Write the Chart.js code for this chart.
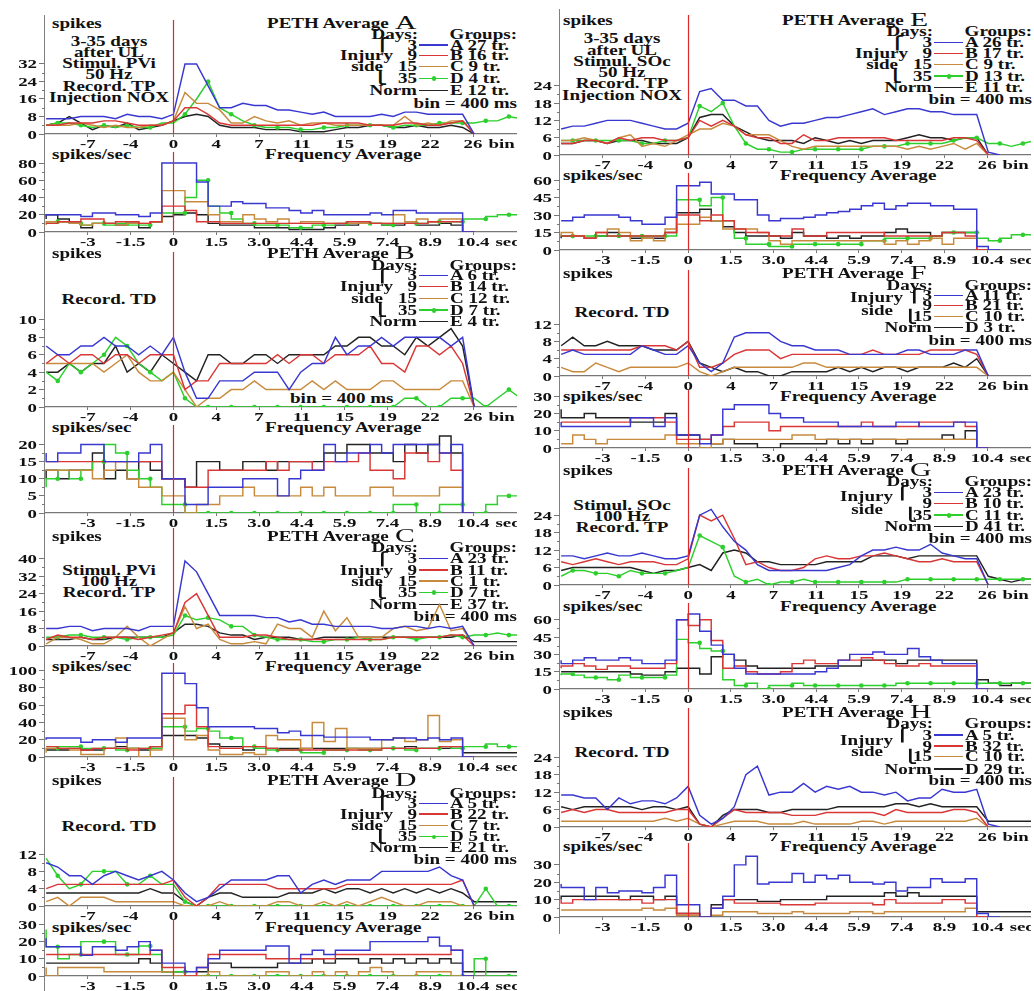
<!DOCTYPE html>
<html>
<head>
<meta charset="utf-8">
<title>PETH and frequency averages</title>
<script src="https://cdn.jsdelivr.net/npm/chart.js@4.4.1/dist/chart.umd.min.js"></script>
<style>
  html, body { margin: 0; padding: 0; background: #fff; }
  #page { position: relative; width: 1034px; height: 991px; overflow: hidden; background: #fff; }
  #page canvas { position: absolute; }
  .lbl { position: absolute; white-space: nowrap; color: #111; font-family: "Liberation Serif", "Times New Roman", serif; font-weight: bold; }
  .rule { position: absolute; }
</style>
</head>
<body>
<div id="page"></div>
<script>
// ---------- bins (400 ms each) and axis labels ----------
const BINS = [-11,-10,-9,-8,-7,-6,-5,-4,-3,-2,-1,0,1,2,3,4,5,6,7,8,9,10,11,12,13,14,15,16,17,18,19,20,21,22,23,24,25,26,27,28,29,30];
const TICK_BINS = [-7.4,-3.7,0,3.7,7.4,11.1,14.8,18.5,22.2,25.9];
const BIN_LABELS = ['-7','-4','0','4','7','11','15','19','22','26'];
const SEC_LABELS = ['-3','-1.5','0','1.5','3.0','4.4','5.9','7.4','8.9','10.4'];

// ---------- y tick values ----------
const A_pethTicks = [0,8,16,24,32],  A_freqTicks = [0,20,40,60,80];
const B_pethTicks = [0,2,4,6,8,10],  B_freqTicks = [0,5,10,15,20];
const C_pethTicks = [0,8,16,24,32,40], C_freqTicks = [0,20,40,60,80,100];
const D_pethTicks = [0,4,8,12],      D_freqTicks = [0,10,20,30];
const E_pethTicks = [0,6,12,18,24],  E_freqTicks = [0,15,30,45,60];
const F_pethTicks = [0,4,8,12],      F_freqTicks = [0,10,20,30];
const G_pethTicks = [0,6,12,18,24],  G_freqTicks = [0,15,30,45,60];
const H_pethTicks = [0,6,12,18,24],  H_freqTicks = [0,10,20,30];

// ---------- legend texts ----------
const A_groups = ['A 27 tr.','B 16 tr.','C 9 tr.','D 4 tr.','E 12 tr.'];
const B_groups = ['A 6 tr.','B 14 tr.','C 12 tr.','D 7 tr.','E 4 tr.'];
const C_groups = ['A 23 tr.','B 11 tr.','C 1 tr.','D 7 tr.','E 37 tr.'];
const D_groups = ['A 5 tr.','B 22 tr.','C 7 tr.','D 5 tr.','E 21 tr.'];
const E_groups = ['A 26 tr.','B 17 tr.','C 9 tr.','D 13 tr.','E 11 tr.'];
const F_groups = ['A 11 tr.','B 21 tr.','C 10 tr.','D 3 tr.'];
const G_groups = ['A 23 tr.','B 10 tr.','C 11 tr.','D 41 tr.'];
const H_groups = ['A 5 tr.','B 32 tr.','C 10 tr.','D 29 tr.'];
const DAYS_5 = ['3','9','15','35',''];
const DAYS_F = ['3','9','15',''];
const DAYS_G = ['3','9','35',''];
const DAYS_H = ['3','9','15',''];

const A_notes = ['3-35 days','after UL','Stimul. PVi','50 Hz','Record. TP','Injection NOX'];
const B_notes = ['Record. TD'];
const C_notes = ['Stimul. PVi','100 Hz','Record. TP'];
const D_notes = ['Record. TD'];
const E_notes = ['3-35 days','after UL','Stimul. SOc','50 Hz','Record. TP','Injection NOX'];
const F_notes = ['Record. TD'];
const G_notes = ['Stimul. SOc','100 Hz','Record. TP'];
const H_notes = ['Record. TD'];

// ---------- PETH: spikes per bin, bins -11 .. ----------
const A_peth_3d   = [7,7,7,8,8,8,7,9,8,8,7, 9, 32,32,22,12,12,14,13,13,11,11, 10,9,10,8,8,8,8,9,8,10, 10,9,9,9,9, 0];
const A_peth_9d   = [4,4,5,5,5,6,6,5,4,4,4, 6, 12,12,9,5,4,4,4,4,4,4, 4,4,5,5,5,5,4,4,4,5, 5,4,4,5,6, 0];
const A_peth_15d  = [4,4,4,5,4,3,4,3,3,4,4, 6, 19,14,14,11,5,5,8,6,5,6, 4,5,5,4,4,4,4,4,4,8, 4,5,4,6,6, 0];
const A_peth_35d  = [4,5,5,4,3,4,3,4,3,3,5, 5, 9,16,24,12,9,6,4,3,3,3, 2,2,3,3,4,4,4,4,3,4, 4,4,5,5,5, 5,6,6,8,7];
const A_peth_norm = [4,5,8,5,2,4,3,5,2,3,4, 6, 8,9,8,4,3,3,3,2,2,2, 1,1,1,2,3,3,4,4,3,3, 4,3,3,4,3, 0];

const B_peth_3d   = [7,6,6,7,7,8,7,7,6,7,6, 8, 4,1,1,3,3,3,4,4,4,2, 4,5,5,8,6,7,7,8,7,8, 8,8,8,7,8, 0];
const B_peth_9d   = [5,6,5,6,6,5,6,6,5,6,6, 6, 2,3,3,5,5,5,5,5,6,5, 6,6,5,6,6,6,7,5,5,4, 7,7,6,7,5, 0];
const B_peth_15d  = [5,5,5,5,5,4,5,6,4,3,3, 4, 2,0,1,1,2,2,3,2,2,2, 2,3,2,3,2,2,2,3,3,2, 2,2,2,3,3, 0];
const B_peth_35d  = [4,3,5,4,5,6,8,7,5,4,3, 4, 1,0,0,0,0,0,0,0,0,0, 0,0,0,0,0,0,0,0,0,1, 1,0,0,1,1, 1,0,1,2,1];
const B_peth_norm = [4,4,5,4,5,5,7,4,5,4,6, 5, 4,3,6,6,5,5,6,6,5,6, 6,6,6,7,7,8,8,7,7,6, 8,7,8,9,7, 0];

const C_peth_3d   = [8,8,9,9,7,8,8,8,7,9,9, 9, 39,34,24,14,14,14,14,13,13,11, 12,10,10,9,9,9,9,8,8,9, 9,8,9,8,9, 0];
const C_peth_9d   = [3,5,4,4,3,4,4,4,3,4,5, 6, 20,24,14,4,4,4,5,5,4,3, 3,3,3,3,3,3,3,3,4,4, 4,4,4,5,5, 0];
const C_peth_15d  = [1,4,4,3,1,1,4,9,4,0,3, 6, 18,8,10,3,1,1,2,1,10,8, 8,4,16,7,13,4,4,4,8,9, 7,8,19,7,8, 0];
const C_peth_35d  = [4,4,5,5,4,4,4,3,4,4,4, 5, 14,12,13,12,9,9,5,4,3,3, 3,2,2,3,3,4,3,3,4,4, 3,4,4,5,4, 5,5,6,5,5];
const C_peth_norm = [3,3,3,4,3,3,4,4,4,4,4, 6, 10,10,9,6,5,5,3,4,4,4, 3,3,4,4,4,4,4,4,4,4, 4,4,4,4,5, 2,2,2,2,2];

const D_peth_3d   = [10,9,7,7,5,7,8,7,6,7,8, 6, 3,1,2,4,6,6,6,6,7,7, 3,5,6,5,6,6,6,8,8,8, 8,8,9,7,6, 0];
const D_peth_9d   = [4,5,5,5,5,5,5,5,5,5,5, 6, 2,0,2,5,5,5,5,5,4,4, 4,4,4,4,5,5,5,5,5,5, 5,5,5,5,6, 0];
const D_peth_15d  = [1,2,0,2,2,2,1,1,1,1,1, 1, 0,0,0,1,0,0,0,0,1,1, 0,0,1,0,1,0,1,2,1,0, 0,1,1,1,0, 0];
const D_peth_35d  = [11,7,4,5,8,8,8,5,5,7,5, 5, 1,0,0,0,0,0,0,0,0,0, 0,0,0,0,0,0,0,0,0,0, 0,0,0,0,0, 0,4,0,0,0];
const D_peth_norm = [3,3,3,3,3,3,3,3,3,4,3, 3, 1,0,2,3,3,2,2,2,2,3, 3,3,4,3,4,4,3,4,3,4, 3,4,3,4,3, 1,1,1,1,1];

const E_peth_3d   = [9,10,10,11,12,12,12,11,10,9,9, 11, 22,23,19,19,17,17,12,10,11,11, 12,13,13,14,15,16,14,15,16,16, 15,15,14,14,14, 1,0];
const E_peth_9d   = [4,4,5,5,4,6,5,6,6,5,5, 6, 12,10,12,10,7,6,6,4,4,7, 5,5,6,6,6,6,6,5,5,5, 5,5,6,6,5, 0];
const E_peth_15d  = [5,5,6,5,4,6,7,3,4,3,5, 7, 9,9,11,10,7,7,7,5,3,2, 3,3,3,3,3,3,3,3,2,3, 2,3,4,2,4, 0];
const E_peth_35d  = [5,5,5,5,5,5,5,4,4,5,5, 6, 17,15,18,10,4,2,2,1,1,2, 2,2,2,2,2,3,3,3,4,4, 4,4,5,6,6, 4,4,3,4,5];
const E_peth_norm = [4,4,5,5,4,5,5,5,4,4,4, 6, 13,14,14,10,8,6,5,5,5,4, 6,5,4,5,4,5,5,5,6,7, 6,6,5,6,6, 0];

const F_peth_3d   = [5,6,5,5,5,5,5,7,6,5,5, 7, 3,1,3,9,10,10,10,8,7,7, 6,6,6,5,5,5,5,5,6,6, 5,5,5,6,6, 0];
const F_peth_9d   = [6,6,6,6,6,6,6,7,7,7,6, 8, 2,2,3,5,6,6,6,4,5,5, 5,5,5,5,5,6,5,5,5,5, 6,6,6,6,5, 0];
const F_peth_15d  = [2,1,1,3,2,1,2,2,2,2,2, 3, 1,0,1,2,2,2,2,2,2,3, 3,2,2,2,2,2,2,2,2,2, 2,2,2,2,2, 0];
const F_peth_norm = [7,9,7,7,8,7,7,7,6,6,6, 8, 3,2,1,2,1,1,0,0,1,1, 1,1,2,1,2,1,2,2,1,2, 2,2,3,2,4, 0];

const G_peth_3d   = [10,10,9,10,11,10,10,11,10,9,9, 10, 24,26,20,15,12,7,5,5,5,5, 5,5,6,7,10,12,12,13,12,12, 14,11,10,9,9, 0];
const G_peth_9d   = [8,7,8,9,8,7,8,8,8,7,7, 9, 24,22,24,16,7,8,6,5,5,6, 9,10,9,9,10,10,11,10,9,8, 8,9,8,8,8, 0];
const G_peth_35d  = [3,5,5,4,4,3,5,4,4,4,5, 6, 17,15,13,3,1,2,0,1,1,2, 1,1,1,1,1,1,1,1,2,2, 2,2,2,2,2, 2,2,2,2,2];
const G_peth_norm = [5,6,6,6,6,6,6,5,4,5,5, 6, 7,5,11,12,11,8,8,7,7,7, 7,8,8,8,8,10,10,10,9,10, 10,10,10,10,10, 3,2,1,2,2];

const H_peth_3d   = [11,11,10,10,6,10,8,9,9,8,10, 14, 4,1,3,7,18,21,11,12,12,15, 12,14,13,14,12,12,11,12,9,10, 10,13,12,12,13, 1,0];
const H_peth_9d   = [5,6,5,6,6,5,5,5,5,5,6, 6, 1,0,3,6,5,5,5,5,4,4, 4,5,5,5,5,5,4,6,5,5, 5,5,6,6,5, 0];
const H_peth_15d  = [2,2,2,2,2,2,2,2,2,3,2, 3, 1,0,1,2,2,2,1,1,1,2, 1,1,1,1,2,2,1,2,2,2, 2,2,2,2,3, 0];
const H_peth_norm = [7,6,7,7,7,7,7,6,7,7,6, 7, 1,0,4,6,6,6,5,5,6,6, 6,6,7,7,7,7,7,8,8,7, 8,7,7,7,7, 2,2,2,2,2];

// ---------- frequency: spikes/sec, one step per bin ----------
const A_freq_3d   = [18,20,20,20,18,22,22,20,20,18,22, 80, 80,80,58,30,30,35,33,33,28,28, 25,22,25,20,20,20,20,22,20,25, 25,22,22,22,22, 0];
const A_freq_9d   = [10,10,12,12,15,15,10,12,12,10,12, 30, 30,25,12,12,10,10,10,10,10,10, 10,10,10,10,10,12,12,10,10,10, 10,10,12,12,12, 0];
const A_freq_15d  = [8,12,12,10,8,10,10,8,10,10,12, 48, 48,35,35,20,12,12,20,15,12,15, 10,12,12,10,10,10,10,10,10,20, 12,15,12,15,15, 0];
const A_freq_35d  = [12,12,12,10,8,10,8,10,8,8,12, 22, 22,40,60,30,22,15,10,8,8,8, 5,5,8,8,10,10,10,10,8,10, 10,10,12,12,12, 15,15,18,20,20];
const A_freq_norm = [15,20,15,12,5,10,10,8,12,5,12, 18, 20,22,20,10,8,8,8,5,5,5, 3,3,3,5,8,8,10,10,8,8, 10,8,8,10,8, 0];

const B_freq_3d   = [17.5,15,17.5,17.5,20,20,15,15,15,17.5,20, 10, 10,2.5,2.5,7.5,7.5,7.5,10,10,10,5, 10,12.5,12.5,20,15,17.5,17.5,20,17.5,20, 20,20,20,17.5,20, 0];
const B_freq_9d   = [15,15,15,15,15,15,15,15,15,15,15, 10, 10,7.5,7.5,12.5,12.5,12.5,12.5,12.5,15,12.5, 15,15,12.5,15,15,15,17.5,12.5,12.5,10, 17.5,17.5,15,17.5,12.5, 0];
const B_freq_15d  = [12.5,12.5,12.5,12.5,12.5,10,12.5,15,10,7.5,7.5, 5, 5,0,2.5,2.5,5,5,7.5,5,5,5, 5,7.5,5,7.5,5,5,5,7.5,7.5,5, 5,5,5,7.5,7.5, 0];
const B_freq_35d  = [7.5,10,12.5,10,12.5,15,20,17.5,12.5,10,7.5, 2.5, 2.5,0,0,0,0,0,0,0,0,0, 0,0,0,0,0,0,0,0,0,2.5, 2.5,0,0,2.5,2.5, 0,0,2.5,5,5];
const B_freq_norm = [10,12.5,10,12.5,12.5,17.5,10,12.5,10,15,12.5, 10, 10,7.5,15,15,12.5,12.5,15,15,12.5,15, 15,15,15,17.5,17.5,20,20,17.5,17.5,15, 20,17.5,20,22.5,17.5, 0];

const C_freq_3d   = [20,22,22,22,17,20,20,17,22,22,22, 97, 97,85,57,35,35,35,35,33,33,28, 30,25,25,23,23,23,23,20,20,22, 22,20,22,20,22, 0];
const C_freq_9d   = [12,12,10,10,8,10,10,10,8,10,12, 50, 50,60,35,12,10,10,12,12,10,8, 8,8,8,8,8,8,8,8,10,10, 10,10,10,12,12, 0];
const C_freq_15d  = [5,10,10,8,3,3,10,22,10,0,8, 45, 45,20,25,8,3,3,5,3,25,20, 20,10,40,18,33,10,10,10,20,22, 18,20,48,18,20, 0];
const C_freq_35d  = [10,10,12,12,10,10,10,8,10,10,10, 35, 35,30,33,30,22,22,12,10,8,8, 8,5,5,8,8,10,8,8,10,10, 8,10,10,12,10, 12,12,15,12,12];
const C_freq_norm = [8,8,8,10,8,8,10,12,10,8,12, 25, 25,25,22,15,12,12,8,10,10,10, 10,10,10,10,10,10,10,10,10,10, 12,10,10,10,12, 5,5,5,5,5];

const D_freq_3d   = [22,17,17,17,12,17,17,15,17,20,15, 7.5, 7.5,2.5,5,10,15,15,15,15,17.5,17.5, 7.5,12.5,15,12.5,15,15,15,20,20,20, 20,20,22.5,17.5,15, 0];
const D_freq_9d   = [12.5,12.5,12.5,12.5,12.5,12.5,12.5,12.5,12.5,12.5,15, 5, 5,0,5,12.5,12.5,12.5,12.5,12.5,10,10, 10,10,10,10,12.5,12.5,12.5,12.5,12.5,12.5, 12.5,12.5,12.5,12.5,15, 0];
const D_freq_15d  = [5,0,5,5,5,5,2.5,2.5,2.5,2.5,2.5, 2.5, 0,0,0,2.5,0,0,0,0,2.5,2.5, 0,0,2.5,0,2.5,0,2.5,5,2.5,0, 0,2.5,2.5,2.5,0, 0];
const D_freq_35d  = [27,17,10,12.5,20,20,20,12.5,12.5,17.5,12.5, 2.5, 2.5,0,0,0,0,0,0,0,0,0, 0,0,0,0,0,0,0,0,0,0, 0,0,0,0,0, 0,10,0,0,0];
const D_freq_norm = [7.5,7.5,7.5,7.5,7.5,7.5,7.5,7.5,7.5,10,7.5, 2.5, 2.5,0,2.5,7.5,7.5,5,5,5,5,7.5, 7.5,7.5,10,7.5,10,10,7.5,10,7.5,10, 7.5,10,7.5,10,7.5, 2.5,2.5,2.5,2.5,2.5];

const E_freq_3d   = [25,25,28,30,30,30,28,25,22,22,28, 55, 55,58,48,48,43,43,30,25,27,27, 28,30,32,33,35,38,40,35,38,40, 40,38,38,35,35, 3,0];
const E_freq_9d   = [12,12,12,10,15,12,12,12,12,12,15, 30, 30,25,30,25,18,15,15,12,12,18, 12,12,15,15,15,15,15,12,12,12, 12,12,15,15,12, 0];
const E_freq_15d  = [12,15,12,10,15,18,15,8,10,8,18, 22, 22,28,25,18,18,18,15,8,5,8, 8,8,8,8,8,8,8,5,8,5, 8,10,5,10,10, 0];
const E_freq_35d  = [12,12,12,12,12,12,12,12,12,12,12, 43, 43,38,45,25,10,5,5,3,3,5, 5,5,5,5,5,8,8,10,10,10, 10,12,15,15,15, 10,8,10,13,13];
const E_freq_norm = [10,12,12,10,12,15,12,10,10,10,15, 32, 32,35,25,20,15,12,12,12,10,15, 12,12,10,12,10,12,12,15,18,15, 15,12,15,15,15, 0];

const F_freq_3d   = [15,12.5,12.5,12.5,12.5,12.5,12.5,17.5,17.5,12.5,17.5, 7.5, 7.5,2.5,7.5,22.5,25,25,25,20,17.5,17.5, 15,15,15,12.5,12.5,12.5,12.5,12.5,15,15, 12.5,12.5,12.5,15,15, 0];
const F_freq_9d   = [15,15,15,15,15,15,15,17.5,17.5,17.5,15, 5, 5,5,7.5,12.5,15,15,15,10,12.5,12.5, 12.5,12.5,12.5,12.5,12.5,15,12.5,12.5,12.5,12.5, 15,15,15,15,12.5, 0];
const F_freq_15d  = [2.5,2.5,7.5,5,2.5,5,5,5,5,5,7.5, 2.5, 2.5,0,2.5,5,5,5,5,5,5,7.5, 7.5,5,5,5,5,5,5,5,5,5, 5,5,5,5,5, 0];
const F_freq_norm = [22.5,17.5,17.5,20,17.5,17.5,17.5,15,15,15,20, 7.5, 7.5,5,2.5,5,2.5,2.5,0,0,2.5,2.5, 2.5,2.5,5,2.5,5,2.5,5,5,2.5,5, 5,5,7.5,5,10, 0];

const G_freq_3d   = [25,22,25,27,25,25,27,25,22,22,25, 60, 65,50,38,30,18,13,13,13,13,13, 13,15,18,25,30,30,32,30,30,35, 28,25,22,22,22, 0];
const G_freq_9d   = [18,20,22,20,17,20,20,18,18,18,22, 60, 55,60,42,18,20,15,13,13,15,22, 25,22,22,25,25,27,25,22,20,20, 22,20,20,20,20, 0];
const G_freq_35d  = [12,13,12,10,10,8,12,10,10,10,12, 43, 40,35,33,8,3,5,0,3,3,5, 3,3,3,3,3,3,3,3,5,5, 5,5,5,5,5, 5,5,5,5,5];
const G_freq_norm = [15,15,15,15,15,15,15,13,12,12,15, 18, 18,13,28,30,25,20,18,18,18,18, 18,20,20,20,20,25,25,25,22,25, 25,25,25,25,25, 8,5,3,5,5];

const H_freq_3d   = [19,17,17,10,17,14,15,15,14,17,24, 7, 7,0,5,12,30,35,19,20,20,25, 20,24,22,24,20,20,19,20,15,17, 17,22,20,20,22, 2,0];
const H_freq_9d   = [10,8,10,10,10,10,10,10,8,10,10, 2, 2,0,5,10,8,8,8,8,7,7, 7,8,8,8,8,8,7,10,8,8, 8,8,10,10,8, 0];
const H_freq_15d  = [4,4,4,4,4,4,4,4,5,4,5, 1, 1,0,1,3,3,3,2,2,2,3, 2,2,2,2,3,3,2,3,3,3, 3,3,3,3,5, 0];
const H_freq_norm = [10,12,12,12,12,12,10,12,12,10,12, 2, 2,0,7,10,10,10,9,9,10,10, 10,10,12,12,12,12,12,14,12,14, 12,12,12,12,12, 3,3,3,3,3];

// ---------- colours ----------
const COL_3  = '#3838d0';
const COL_9  = '#d93636';
const COL_15 = '#c88a3c';
const COL_35 = '#2ccf2c';
const COL_N  = '#222222';
const COL_ZERO = '#e02828';

// ---------- page geometry ----------
const page = document.getElementById('page');
const X_MIN = -11.1, X_MAX = 29.7;
const AXIS_W = 45, XLAB_H = 20;
const COL_LEFT = [45, 560], COL_RIGHT = [517, 1031];
const COL_SHIFT = 515;

function markedBin(x) { return x < 0 ? (x % 2 === 0) : (x % 2 === 1); }

function drawStretched(ctx, s, x, y, align, sx) {
  ctx.save();
  ctx.translate(x, y);
  ctx.scale(sx, 1);
  ctx.textAlign = align;
  ctx.fillText(s, 0, 0);
  ctx.restore();
}

// zero marker, minor ticks and the tick labels of each plot
const axisDecor = {
  id: 'axisDecor',
  afterDraw(chart, args, opts) {
    const { ctx, chartArea: a, scales: { x, y } } = chart;
    ctx.save();
    // stimulus onset marker
    const zx = Math.round(x.getPixelForValue(0)) + 0.5;
    ctx.strokeStyle = COL_ZERO;
    ctx.lineWidth = 1.2;
    ctx.beginPath(); ctx.moveTo(zx, a.top); ctx.lineTo(zx, a.bottom); ctx.stroke();
    // minor ticks
    ctx.strokeStyle = '#777'; ctx.lineWidth = 1;
    const vals = y.ticks.map(t => t.value);
    for (let i = 0; i + 1 < vals.length; i++) {
      const py = Math.round(y.getPixelForValue((vals[i] + vals[i + 1]) / 2)) + 0.5;
      ctx.beginPath(); ctx.moveTo(a.left - 3, py); ctx.lineTo(a.left, py); ctx.stroke();
    }
    ctx.fillStyle = '#111';
    ctx.font = 'bold 13px "Liberation Serif"';
    ctx.textBaseline = 'alphabetic';
    y.ticks.forEach((t, i) => {
      const s = t.label != null ? String(t.label) : String(opts.yTicks[i]);
      drawStretched(ctx, s, a.left - 8, y.getPixelForValue(t.value) + 4.5, 'right', 1.45);
    });
    x.ticks.forEach((t, i) => {
      const s = t.label != null ? String(t.label) : opts.xLabels[i];
      const px = x.getPixelForValue(t.value);
      const by = a.bottom + 13.5;
      drawStretched(ctx, s, px, by, 'center', 1.45);
      if (i === x.ticks.length - 1) {
        const w = ctx.measureText(s).width * 1.45;
        drawStretched(ctx, opts.unit, px + w / 2 + 6, by, 'left', 1.45);
      }
    });
    ctx.restore();
  }
};

function makePlot(col, top, bottom, ymax, yTicks, xLabels, unit, series, stepped) {
  const left = COL_LEFT[col] - AXIS_W;
  const width = COL_RIGHT[col] - left;
  const top0 = Math.round(top), y0 = Math.round(bottom);
  const height = y0 - top0 + XLAB_H;
  const cv = document.createElement('canvas');
  cv.width = width; cv.height = height;
  cv.style.left = left + 'px'; cv.style.top = top0 + 'px';
  cv.style.width = width + 'px'; cv.style.height = height + 'px';
  page.appendChild(cv);
  new Chart(cv, {
    type: 'line',
    data: {
      datasets: series.map(s => ({
        data: s.values.map((v, i) => ({ x: BINS[i], y: v })),
        borderColor: s.color,
        backgroundColor: s.color,
        borderWidth: 1.45,
        stepped: stepped ? 'after' : false,
        tension: 0,
        fill: false,
        pointRadius: s.marker ? (c => (c.raw && markedBin(c.raw.x)) ? 2.3 : 0) : 0,
        pointBorderWidth: 0,
        pointBackgroundColor: s.color
      }))
    },
    options: {
      responsive: false,
      maintainAspectRatio: false,
      animation: false,
      devicePixelRatio: 1,
      events: [],
      layout: { padding: 0 },
      plugins: {
        legend: { display: false },
        tooltip: { enabled: false },
        axisDecor: { unit, xLabels, yTicks }
      },
      scales: {
        x: {
          type: 'linear', min: X_MIN, max: X_MAX,
          afterBuildTicks: s => { s.ticks = TICK_BINS.map(v => ({ value: v })); },
          ticks: { display: false, callback: (v, i) => xLabels[i] },
          grid: { display: true, drawOnChartArea: false, drawTicks: true, tickLength: 3, color: '#777', lineWidth: 1 },
          border: { display: true, color: '#777', width: 1.2 },
          afterFit: s => { s.height = XLAB_H; s.paddingLeft = 0; s.paddingRight = 0; }
        },
        y: {
          type: 'linear', min: 0, max: ymax,
          afterBuildTicks: s => { s.ticks = yTicks.map(v => ({ value: v })); },
          ticks: { display: false, callback: v => String(v) },
          grid: { display: true, drawOnChartArea: false, drawTicks: true, tickLength: 6, color: '#777', lineWidth: 1 },
          border: { display: false },
          afterFit: s => { s.width = AXIS_W; s.paddingTop = 0; s.paddingBottom = 0; }
        }
      }
    },
    plugins: [axisDecor]
  });
}

// ---------- HTML text helpers ----------
function label(str, x, y, align, size, sx, extra) {
  const d = document.createElement('div');
  d.className = 'lbl';
  d.textContent = str;
  const lh = Math.round(size * 1.2);
  d.style.fontSize = size + 'px';
  d.style.lineHeight = lh + 'px';
  if (extra && extra.weight) d.style.fontWeight = extra.weight;
  if (extra && extra.family) d.style.fontFamily = extra.family;
  d.style.left = x + 'px';
  d.style.top = (y - lh / 2) + 'px';
  const shift = align === 'left' ? 0 : align === 'center' ? -50 : -100;
  d.style.transformOrigin = (align === 'left' ? 'left' : align === 'center' ? 'center' : 'right') + ' center';
  d.style.transform = `translateX(${shift}%) scaleX(${sx})`;
  page.appendChild(d);
}

function rule(x, y, w, h, color) {
  const d = document.createElement('div');
  d.className = 'rule';
  d.style.left = x + 'px'; d.style.top = y + 'px';
  d.style.width = w + 'px'; d.style.height = h + 'px';
  d.style.background = color;
  page.appendChild(d);
  return d;
}

function sampleLine(x1, x2, y, color, marker) {
  rule(x1, y - 0.7, x2 - x1, 1.4, color);
  if (marker) {
    const m = rule((x1 + x2) / 2 - 2, y - 2, 4.5, 4.5, color);
    m.style.borderRadius = '50%';
  }
}

const TXT = 14, SX = 1.36;
const BRACE = { family: '"DejaVu Sans", sans-serif' };

// ---------- panel assembly ----------
const PANELS = [
  { key: 'A', col: 0, titleY: 23.3, daysY: 34.5, rows: [45, 55.7, 66.7, 78.3, 90.7], bin: [517, 103.3, 'right'],
    notes: A_notes, notesY: [41.7, 52.3, 63.3, 74.3, 86, 97.7], freqY: 154,
    peth: [20, 134.3, 52.1, A_pethTicks], freq: [152, 232.3, 92.8, A_freqTicks],
    groups: A_groups, days: DAYS_5, layout: 5,
    series: [[A_peth_3d, A_freq_3d, COL_3], [A_peth_9d, A_freq_9d, COL_9], [A_peth_15d, A_freq_15d, COL_15], [A_peth_35d, A_freq_35d, COL_35, true], [A_peth_norm, A_freq_norm, COL_N]] },
  { key: 'B', col: 0, titleY: 253.3, daysY: 265, rows: [275.7, 286.7, 298.3, 310, 321.7], bin: [290, 398.3, 'left'],
    notes: B_notes, notesY: [299.3], freqY: 427.7,
    peth: [252, 407.3, 17.8, B_pethTicks], freq: [425, 513.3, 25.7, B_freqTicks],
    groups: B_groups, days: DAYS_5, layout: 5,
    series: [[B_peth_3d, B_freq_3d, COL_3], [B_peth_9d, B_freq_9d, COL_9], [B_peth_15d, B_freq_15d, COL_15], [B_peth_35d, B_freq_35d, COL_35, true], [B_peth_norm, B_freq_norm, COL_N]] },
  { key: 'C', col: 0, titleY: 536.7, daysY: 547.7, rows: [558.7, 570, 581, 592.3, 604.3], bin: [517, 616.7, 'right'],
    notes: C_notes, notesY: [570, 581, 592.3], freqY: 666,
    peth: [528, 645.7, 54.1, C_pethTicks], freq: [663, 757.3, 108.9, C_freqTicks],
    groups: C_groups, days: DAYS_5, layout: 5,
    series: [[C_peth_3d, C_freq_3d, COL_3], [C_peth_9d, C_freq_9d, COL_9], [C_peth_15d, C_freq_15d, COL_15], [C_peth_35d, C_freq_35d, COL_35, true], [C_peth_norm, C_freq_norm, COL_N]] },
  { key: 'D', col: 0, titleY: 780, daysY: 793.3, rows: [803.3, 814, 825.3, 836.7, 847.7], bin: [517, 859, 'right'],
    notes: D_notes, notesY: [826], freqY: 927.7,
    peth: [777, 905.7, 29.8, D_pethTicks], freq: [920, 975.7, 32.6, D_freqTicks],
    groups: D_groups, days: DAYS_5, layout: 5,
    series: [[D_peth_3d, D_freq_3d, COL_3], [D_peth_9d, D_freq_9d, COL_9], [D_peth_15d, D_freq_15d, COL_15], [D_peth_35d, D_freq_35d, COL_35, true], [D_peth_norm, D_freq_norm, COL_N]] },
  { key: 'E', col: 1, titleY: 20, daysY: 31.7, rows: [42.7, 53.3, 64.3, 76, 87.3], bin: [517, 99.3, 'right'],
    notes: E_notes, notesY: [38.3, 50, 61, 72.7, 83.3, 95], freqY: 175,
    peth: [15, 155, 48.5, E_pethTicks], freq: [173, 250, 66, E_freqTicks],
    groups: E_groups, days: DAYS_5, layout: 5,
    series: [[E_peth_3d, E_freq_3d, COL_3], [E_peth_9d, E_freq_9d, COL_9], [E_peth_15d, E_freq_15d, COL_15], [E_peth_35d, E_freq_35d, COL_35, true], [E_peth_norm, E_freq_norm, COL_N]] },
  { key: 'F', col: 1, titleY: 273.3, daysY: 285, rows: [295.7, 305.7, 316.7, 327.7], bin: [517, 340, 'right'],
    injury: [388, 297.7], side: [378, 310], braceTop: 391.7,
    notes: F_notes, notesY: [312.3], freqY: 396.7,
    peth: [270, 375.7, 24.5, F_pethTicks], freq: [390, 448.3, 33.6, F_freqTicks],
    groups: F_groups, days: DAYS_F, layout: 4,
    series: [[F_peth_3d, F_freq_3d, COL_3], [F_peth_9d, F_freq_9d, COL_9], [F_peth_15d, F_freq_15d, COL_15], [F_peth_norm, F_freq_norm, COL_N]] },
  { key: 'G', col: 1, titleY: 470.7, daysY: 481.7, rows: [492.7, 503.3, 515, 526.7], bin: [517, 538.3, 'right'],
    injury: [378, 496.7], side: [368, 509.3], braceTop: 380,
    notes: G_notes, notesY: [505, 516, 527.3], freqY: 606.7,
    peth: [468, 585, 40.2, G_pethTicks], freq: [603, 689.3, 74.5, G_freqTicks],
    groups: G_groups, days: DAYS_G, layout: 4,
    series: [[G_peth_3d, G_freq_3d, COL_3], [G_peth_9d, G_freq_9d, COL_9], [G_peth_35d, G_freq_35d, COL_35, true], [G_peth_norm, G_freq_norm, COL_N]] },
  { key: 'H', col: 1, titleY: 712.7, daysY: 723.3, rows: [735, 746, 756.7, 769], bin: [517, 780.7, 'right'],
    injury: [378, 740], side: [368, 751.7], braceTop: 380,
    notes: H_notes, notesY: [752.7], freqY: 846.7,
    peth: [708, 826.7, 41, H_pethTicks], freq: [843, 916.7, 42.6, H_freqTicks],
    groups: H_groups, days: DAYS_H, layout: 4,
    series: [[H_peth_3d, H_freq_3d, COL_3], [H_peth_9d, H_freq_9d, COL_9], [H_peth_15d, H_freq_15d, COL_15], [H_peth_norm, H_freq_norm, COL_N]] }
];

// vertical axis lines of both columns
rule(44, 15, 1.2, 976, '#808080');
rule(559, 9, 1.2, 925, '#808080');

PANELS.forEach(p => {
  const dx = p.col * COL_SHIFT;
  // titles
  label('spikes', p.col ? 563 : 52, p.titleY, 'left', TXT, SX);
  label('PETH Average', 267 + dx, p.titleY, 'left', TXT, SX);
  label(p.key, 395 + dx, p.titleY - 0.5, 'left', 18, 1.65, { weight: 'normal' });
  label('spikes/sec', p.col ? 563 : 52, p.freqY, 'left', TXT, SX);
  label('Frequency Average', 265 + dx, p.freqY, 'left', TXT, SX);
  // condition notes
  p.notes.forEach((t, i) => label(t, 109 + (p.col ? 513 : 0), p.notesY[i], 'center', TXT, SX));
  // legend
  label('Days:', 418 + dx, p.daysY, 'right', TXT, SX);
  label('Groups:', 517 + dx, p.daysY, 'right', TXT, SX);
  p.rows.forEach((ry, i) => {
    if (p.days[i]) label(p.days[i], 417 + dx, ry, 'right', TXT, SX);
    const s = p.series[i];
    sampleLine(419 + dx, 448 + dx, ry, s[2], s[3]);
    label(p.groups[i], 450 + dx, ry, 'left', TXT, SX);
  });
  const last = p.rows.length - 1;
  label('Norm', 417 + dx, p.rows[last], 'right', TXT, SX);
  if (p.layout === 5) {
    label('\u23A7', 375 + dx, p.rows[0], 'left', 13, 1.5, BRACE);
    label('Injury', 393 + dx, p.rows[1], 'right', TXT, SX);
    label('side', 383 + dx, p.rows[2], 'right', TXT, SX);
    label('\u23A9', 373 + dx, p.rows[3], 'left', 13, 1.5, BRACE);
  } else {
    label('\u23A7', p.braceTop + dx, p.rows[0], 'left', 13, 1.5, BRACE);
    label('Injury', p.injury[0] + dx, p.injury[1], 'right', TXT, SX);
    label('side', p.side[0] + dx, p.side[1], 'right', TXT, SX);
    label('\u23A9', 388 + dx, p.rows[2], 'left', 13, 1.5, BRACE);
  }
  label('bin = 400 ms', p.bin[0] + dx, p.bin[1], p.bin[2], TXT, SX);

  // plots
  const series = p.series.map(s => ({ values: s[0], color: s[2], marker: !!s[3] }));
  const fseries = p.series.map(s => ({ values: s[1], color: s[2], marker: !!s[3] }));
  makePlot(p.col, p.peth[0], p.peth[1], p.peth[2], p.peth[3], BIN_LABELS, 'bin', series, false);
  makePlot(p.col, p.freq[0], p.freq[1], p.freq[2], p.freq[3], SEC_LABELS, 'sec', fseries, true);
});
</script>
</body>
</html>
